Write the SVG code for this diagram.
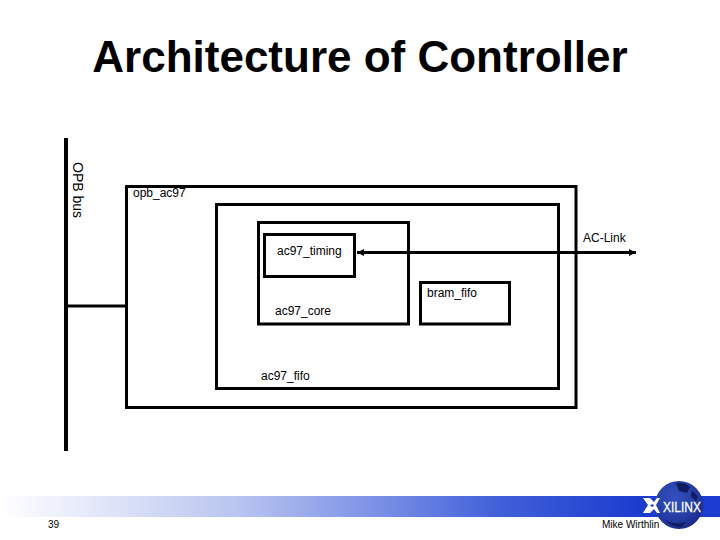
<svg xmlns="http://www.w3.org/2000/svg" width="720" height="540" viewBox="0 0 720 540">
<style>
.t{font-family:"Liberation Sans",Arial,sans-serif;font-size:12px;fill:#000}
.b{fill:none;stroke:#000;stroke-width:3}
.c{fill:none;stroke:#000;stroke-width:3}
</style>
<defs>
<linearGradient id="band" gradientUnits="userSpaceOnUse" x1="0" y1="0" x2="640" y2="0">
<stop offset="0" stop-color="#ffffff"/>
<stop offset="0.375" stop-color="#b8c4f0"/>
<stop offset="0.625" stop-color="#7088e4"/>
<stop offset="0.78" stop-color="#4060d8"/>
<stop offset="1" stop-color="#1c3cd0"/>
</linearGradient>
<radialGradient id="globe" cx="0.4" cy="0.35" r="0.75">
<stop offset="0" stop-color="#3450c0"/>
<stop offset="0.65" stop-color="#243aa0"/>
<stop offset="1" stop-color="#16247c"/>
</radialGradient>
<marker id="ah" markerUnits="userSpaceOnUse" markerWidth="8" markerHeight="8" refX="7" refY="4" orient="auto-start-reverse"><path d="M0 0.5L7 4L0 7.5Z" fill="#000"/></marker>
</defs>
<rect width="720" height="540" fill="#fff"/>
<g id="footer">
<rect x="0" y="496" width="720" height="21" fill="url(#band)"/>
<g id="logo">
<circle cx="679" cy="505" r="24" fill="url(#globe)"/>
<path d="M676 483q8-1 14 4l-3 6-8-2zM692 490l6 7-2 4-5-5zM664 519q10 7 22 3l-5 5q-10 0-17-8z" fill="#101c60"/>
<path d="M643 498h7l4 4 3-4h3l-4 7 4 8h-3l-3-4-4 4h-7l5-8z" fill="#fff"/>
<path d="M650 505.500l2.500-1.500 1.500 1.500-1.500 1.500z" fill="#1c3cd0"/>
<text x="663" y="512" style="font-family:'Liberation Sans',Arial,sans-serif;font-size:14px;fill:#fff;stroke:#fff;stroke-width:.3" textLength="38" lengthAdjust="spacingAndGlyphs">XILINX</text>
</g>
<text class="t" x="48" y="528" style="font-size:10px">39</text>
<text class="t" x="602" y="528" style="font-size:10px">Mike Wirthlin</text>
</g>
<text x="360" y="72" text-anchor="middle" style="font-family:'Liberation Sans',Arial,sans-serif;font-size:44px;font-weight:bold;fill:#000">Architecture of Controller</text>
<g id="connectors">
<path d="M66 138V451" fill="none" stroke="#000" stroke-width="4"/>
<path class="c" d="M66 306H126"/>
<path class="c" d="M357 252.500H636" marker-start="url(#ah)" marker-end="url(#ah)"/>
</g>
<g id="opb_bus"><text class="t" transform="translate(73 162) rotate(90)" style="font-size:14px">OPB bus</text></g>
<g id="opb_ac97"><rect class="b" x="126.500" y="186.500" width="449.500" height="221"/><text class="t" x="133" y="197">opb_ac97</text></g>
<g id="ac97_fifo"><rect class="b" x="216.500" y="204.500" width="342" height="184"/><text class="t" x="261" y="380">ac97_fifo</text></g>
<g id="ac97_core"><rect class="b" x="258.500" y="222.500" width="150" height="101.500"/><text class="t" x="275" y="315">ac97_core</text></g>
<g id="ac97_timing"><rect class="b" x="264.500" y="234.500" width="90" height="42"/><text class="t" x="277" y="255">ac97_timing</text></g>
<g id="bram_fifo"><rect class="b" x="420.500" y="282.500" width="89" height="41.500"/><text class="t" x="427" y="297">bram_fifo</text></g>
<g id="ac_link"><text class="t" x="583" y="242">AC-Link</text></g>
</svg>
